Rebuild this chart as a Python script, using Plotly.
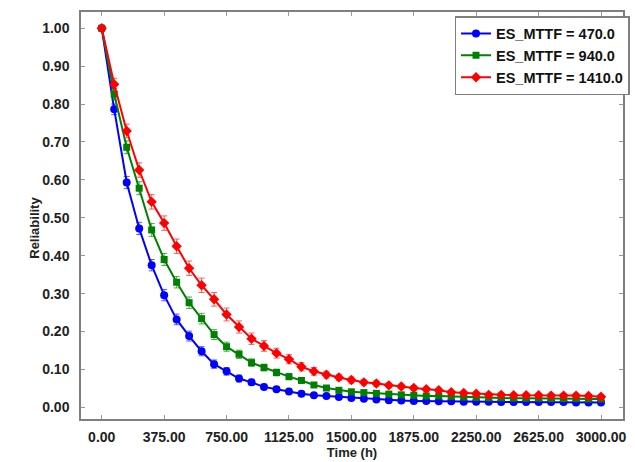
import plotly.graph_objects as go

time_h = [0, 75, 150, 225, 300, 375, 450, 525, 600, 675, 750, 825, 900, 975, 1050, 1125, 1200,
          1275, 1350, 1425, 1500, 1575, 1650, 1725, 1800, 1875, 1950, 2025, 2100, 2175, 2250,
          2325, 2400, 2475, 2550, 2625, 2700, 2775, 2850, 2925, 3000]

rel_470 = [1.0, 0.786, 0.593, 0.472, 0.375, 0.296, 0.232, 0.188, 0.148, 0.114, 0.095, 0.076,
           0.066, 0.054, 0.048, 0.042, 0.036, 0.032, 0.030, 0.027, 0.025, 0.023, 0.021, 0.019,
           0.018, 0.017, 0.017, 0.016, 0.016, 0.015, 0.015, 0.015, 0.014, 0.014, 0.014, 0.014,
           0.014, 0.014, 0.013, 0.013, 0.013]
rel_940 = [1.0, 0.826, 0.686, 0.578, 0.468, 0.390, 0.330, 0.276, 0.234, 0.192, 0.160, 0.140,
           0.118, 0.105, 0.092, 0.081, 0.071, 0.059, 0.051, 0.045, 0.041, 0.039, 0.037, 0.035,
           0.033, 0.032, 0.030, 0.030, 0.029, 0.027, 0.026, 0.025, 0.025, 0.024, 0.024, 0.024,
           0.023, 0.023, 0.023, 0.022, 0.022]
rel_1410 = [1.0, 0.852, 0.729, 0.626, 0.542, 0.486, 0.425, 0.367, 0.322, 0.285, 0.245, 0.212,
            0.181, 0.162, 0.143, 0.127, 0.107, 0.095, 0.086, 0.079, 0.072, 0.066, 0.063, 0.058,
            0.055, 0.051, 0.048, 0.045, 0.040, 0.038, 0.036, 0.033, 0.033, 0.032, 0.032, 0.032,
            0.031, 0.031, 0.031, 0.030, 0.028]

err_470 = [0.0, 0.014, 0.016, 0.016, 0.015, 0.015, 0.014, 0.013, 0.012, 0.011, 0.010, 0.009,
           0.008, 0.007, 0.006, 0.006, 0.005, 0.005, 0.004, 0.004, 0.004, 0.004, 0.004, 0.003,
           0.003, 0.003, 0.003, 0.003, 0.003, 0.003, 0.003, 0.003, 0.003, 0.003, 0.003, 0.003,
           0.003, 0.003, 0.003, 0.003, 0.003]
err_940 = [0.0, 0.015, 0.017, 0.017, 0.017, 0.016, 0.015, 0.015, 0.014, 0.013, 0.012, 0.011,
           0.010, 0.009, 0.009, 0.008, 0.007, 0.006, 0.006, 0.005, 0.005, 0.005, 0.005, 0.004,
           0.004, 0.004, 0.004, 0.004, 0.004, 0.004, 0.004, 0.004, 0.004, 0.004, 0.004, 0.004,
           0.004, 0.004, 0.004, 0.004, 0.004]
err_1410 = [0.0, 0.016, 0.018, 0.019, 0.019, 0.019, 0.019, 0.019, 0.019, 0.018, 0.017, 0.016,
            0.015, 0.014, 0.013, 0.012, 0.011, 0.010, 0.009, 0.008, 0.008, 0.007, 0.007, 0.006,
            0.006, 0.006, 0.005, 0.005, 0.005, 0.005, 0.005, 0.005, 0.005, 0.005, 0.005, 0.005,
            0.005, 0.005, 0.005, 0.005, 0.005]

series = [
    ("ES_MTTF = 470.0", rel_470, err_470, "#0000ff", "rgba(40,40,255,0.75)", "circle", 8),
    ("ES_MTTF = 940.0", rel_940, err_940, "#008000", "rgba(30,140,30,0.75)", "square", 7),
    ("ES_MTTF = 1410.0", rel_1410, err_1410, "#ff0000", "rgba(255,40,40,0.75)", "diamond", 8),
]

fig = go.Figure()
for name, ys, es, col, ecol, sym, sz in series:
    fig.add_trace(go.Scatter(
        x=time_h, y=ys, name=name, mode="lines+markers",
        line=dict(color=col, width=2),
        marker=dict(color=col, symbol=sym, size=sz, line=dict(width=0)),
        error_y=dict(type="data", array=es, visible=True, color=ecol, thickness=1, width=3),
    ))

font_fam = "Liberation Sans, Arial, sans-serif"
axis_common = dict(
    showline=True, linecolor="#7f7f7f", linewidth=1.5, mirror="ticks",
    ticks="inside", ticklen=4, tickcolor="#9a9a9a", tickwidth=1,
    showgrid=False, zeroline=False,
    tickfont=dict(family=font_fam, size=14, color="#222222", weight=700),
    tickformat=".2f",
)

fig.update_layout(
    width=635, height=462,
    margin=dict(l=81, r=5, t=12, b=41),
    paper_bgcolor="white", plot_bgcolor="white",
    font=dict(family=font_fam, color="#222222"),
    xaxis=dict(range=[-124.6, 3132], tickvals=[0, 375, 750, 1125, 1500, 1875, 2250, 2625, 3000],
               title=dict(text="Time (h)", font=dict(family=font_fam, size=13, weight=700), standoff=3),
               ticklabelstandoff=4, **axis_common),
    yaxis=dict(range=[-0.0307, 1.0428], dtick=0.1, tick0=0,
               ticklabelstandoff=7, **axis_common),
    legend=dict(x=1.012, xanchor="right", y=0.99, yanchor="top",
                bgcolor="white", bordercolor="#7f7f7f", borderwidth=1.5,
                font=dict(family=font_fam, size=14.5, color="#111111", weight=700),
                itemwidth=30, tracegroupgap=0),
    showlegend=True,
    annotations=[dict(text="Reliability", xref="paper", yref="paper",
                      x=-0.0874, y=0.469, xanchor="center", yanchor="middle",
                      textangle=-90, showarrow=False,
                      font=dict(family=font_fam, size=13, color="#222222", weight=700))],
)

fig.write_html("out.html")
